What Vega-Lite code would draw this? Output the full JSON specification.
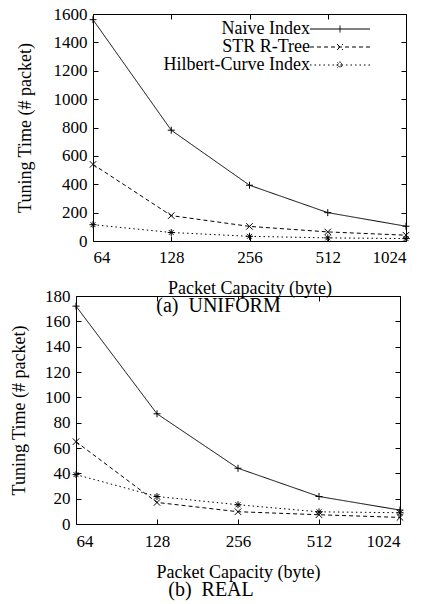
{
  "$schema": "https://vega.github.io/schema/vega-lite/v6.json",
  "background": "white",
  "padding": {"left": 9, "top": 4, "right": 0, "bottom": 0},
  "spacing": 282,
  "bounds": "flush",
  "config": {
    "font": "Liberation Serif",
    "view": {"stroke": "black", "strokeWidth": 1},
    "axis": {"grid": false, "domain": false, "ticks": true, "tickColor": "black", "tickSize": -5, "tickWidth": 1, "labelColor": "black", "labelFont": "Liberation Serif", "labelFontSize": 17, "titleFont": "Liberation Serif", "titleFontSize": 18, "titleFontWeight": "normal", "titleColor": "black", "format": "d"},
    "axisX": {"labelPadding": 13, "titlePadding": 14},
    "axisY": {"labelPadding": 11},
    "legend": {"padding": 0, "labelFont": "Liberation Serif", "labelFontSize": 18, "labelColor": "black", "labelAlign": "right", "rowPadding": 0, "symbolStrokeColor": "black", "symbolStrokeWidth": 1, "symbolFillColor": "transparent", "symbolSize": 100}
  },
  "datasets": {
    "uniform": [
      {"capacity": 64, "time": 1560, "series": "Naive Index"},
      {"capacity": 128, "time": 781, "series": "Naive Index"},
      {"capacity": 256, "time": 393, "series": "Naive Index"},
      {"capacity": 512, "time": 200, "series": "Naive Index"},
      {"capacity": 1024, "time": 104, "series": "Naive Index"},
      {"capacity": 64, "time": 540, "series": "STR R-Tree"},
      {"capacity": 128, "time": 179, "series": "STR R-Tree"},
      {"capacity": 256, "time": 103, "series": "STR R-Tree"},
      {"capacity": 512, "time": 64, "series": "STR R-Tree"},
      {"capacity": 1024, "time": 41, "series": "STR R-Tree"},
      {"capacity": 64, "time": 115, "series": "Hilbert-Curve Index"},
      {"capacity": 128, "time": 60, "series": "Hilbert-Curve Index"},
      {"capacity": 256, "time": 33, "series": "Hilbert-Curve Index"},
      {"capacity": 512, "time": 22, "series": "Hilbert-Curve Index"},
      {"capacity": 1024, "time": 17, "series": "Hilbert-Curve Index"}
    ],
    "real": [
      {"capacity": 64, "time": 172, "series": "Naive Index"},
      {"capacity": 128, "time": 87, "series": "Naive Index"},
      {"capacity": 256, "time": 44, "series": "Naive Index"},
      {"capacity": 512, "time": 21.7, "series": "Naive Index"},
      {"capacity": 1024, "time": 11, "series": "Naive Index"},
      {"capacity": 64, "time": 65, "series": "STR R-Tree"},
      {"capacity": 128, "time": 17, "series": "STR R-Tree"},
      {"capacity": 256, "time": 9.7, "series": "STR R-Tree"},
      {"capacity": 512, "time": 7.3, "series": "STR R-Tree"},
      {"capacity": 1024, "time": 5.2, "series": "STR R-Tree"},
      {"capacity": 64, "time": 39, "series": "Hilbert-Curve Index"},
      {"capacity": 128, "time": 21.7, "series": "Hilbert-Curve Index"},
      {"capacity": 256, "time": 15.2, "series": "Hilbert-Curve Index"},
      {"capacity": 512, "time": 9.6, "series": "Hilbert-Curve Index"},
      {"capacity": 1024, "time": 8.9, "series": "Hilbert-Curve Index"}
    ]
  },
  "vconcat": [
    {"hconcat": [
    {
      "width": 17,
      "height": 1,
      "view": {"stroke": null},
      "data": {"values": []},
      "mark": {"type": "point", "opacity": 0}
    },
    {
      "width": 313,
      "height": 227,
      "data": {"name": "uniform"},
      "title": {"text": "(a)\u00a0\u00a0UNIFORM", "orient": "bottom", "anchor": "middle", "fontSize": 20, "fontWeight": "normal", "font": "Liberation Serif", "color": "black", "dx": -31, "offset": -1},
      "resolve": {"axis": {"x": "independent", "y": "independent"}},
      "encoding": {
        "x": {"field": "capacity", "type": "quantitative", "scale": {"type": "log", "base": 2, "domain": [64, 1024]}, "axis": null},
        "y": {"field": "time", "type": "quantitative", "scale": {"domain": [0, 1600]}, "axis": null}
      },
      "layer": [
        {
          "mark": {"type": "line", "color": "black", "strokeWidth": 1},
          "encoding": {
            "x": {"field": "capacity", "type": "quantitative", "axis": {"values": [64, 128, 256, 512, 1024], "title": "Packet Capacity (byte)"}},
            "y": {"field": "time", "type": "quantitative", "axis": {"values": [0, 200, 400, 600, 800, 1000, 1200, 1400, 1600], "title": "Tuning Time (# packet)", "titlePadding": 19}},
            "strokeDash": {"field": "series", "type": "nominal", "scale": {"domain": ["Naive Index", "STR R-Tree", "Hilbert-Curve Index"], "range": [[1, 0], [4, 3], [1.5, 3]]},
              "legend": {"title": null, "orient": "none", "legendX": 255, "legendY": 6, "symbolType": "M-6,0H6", "labelOffset": -39,
                "encode": {"symbols": {"update": {"shape": {"signal": "datum.value === 'Naive Index' ? 'M-6,0H6M0,-0.7V0.7' : datum.value === 'STR R-Tree' ? 'M-6,0H6M-0.6,-0.6L0.6,0.6M-0.6,0.6L0.6,-0.6' : 'M-6,0H6M-0.7,0H0.7M0,-0.7V0.7M-0.5,-0.5L0.5,0.5M-0.5,0.5L0.5,-0.5'"}}}}}}
          }
        },
        {
          "mark": {"type": "point", "opacity": 0},
          "encoding": {
            "x": {"field": "capacity", "type": "quantitative", "axis": {"orient": "top", "values": [64, 128, 256, 512, 1024], "labels": false, "title": null}},
            "y": {"field": "time", "type": "quantitative", "axis": {"orient": "right", "values": [0, 200, 400, 600, 800, 1000, 1200, 1400, 1600], "labels": false, "title": null}}
          }
        },
        {
          "transform": [{"filter": "datum.series === 'Naive Index'"}],
          "mark": {"type": "point", "shape": "M-1,0H1M0,-1V1", "filled": false, "stroke": "black", "strokeWidth": 1, "size": 49, "opacity": 1}
        },
        {
          "transform": [{"filter": "datum.series === 'STR R-Tree'"}],
          "mark": {"type": "point", "shape": "M-1,-1L1,1M-1,1L1,-1", "filled": false, "stroke": "black", "strokeWidth": 1, "size": 42, "opacity": 1}
        },
        {
          "transform": [{"filter": "datum.series === 'Hilbert-Curve Index'"}],
          "mark": {"type": "point", "shape": "M-1,0H1M0,-1V1M-0.7,-0.7L0.7,0.7M-0.7,0.7L0.7,-0.7", "filled": false, "stroke": "black", "strokeWidth": 1, "size": 49, "opacity": 1}
        }
      ]
    }
    ], "spacing": 0, "bounds": "flush"},
    {
      "width": 324,
      "height": 228,
      "data": {"name": "real"},
      "title": {"text": "(b)\u00a0\u00a0REAL", "orient": "bottom", "anchor": "middle", "fontSize": 20, "fontWeight": "normal", "font": "Liberation Serif", "color": "black", "dx": -27, "offset": -1},
      "resolve": {"axis": {"x": "independent", "y": "independent"}},
      "encoding": {
        "x": {"field": "capacity", "type": "quantitative", "scale": {"type": "log", "base": 2, "domain": [64, 1024]}, "axis": null},
        "y": {"field": "time", "type": "quantitative", "scale": {"domain": [0, 180]}, "axis": null}
      },
      "layer": [
        {
          "mark": {"type": "line", "color": "black", "strokeWidth": 1},
          "encoding": {
            "x": {"field": "capacity", "type": "quantitative", "axis": {"values": [64, 128, 256, 512, 1024], "title": "Packet Capacity (byte)", "labelPadding": 14}},
            "y": {"field": "time", "type": "quantitative", "axis": {"values": [0, 20, 40, 60, 80, 100, 120, 140, 160, 180], "title": "Tuning Time (# packet)", "titlePadding": 16.5}},
            "strokeDash": {"field": "series", "type": "nominal", "scale": {"domain": ["Naive Index", "STR R-Tree", "Hilbert-Curve Index"], "range": [[1, 0], [4, 3], [1.5, 3]]},
              "legend": {"title": null, "orient": "none", "legendX": 271, "legendY": 8, "symbolType": "M-5,0H5", "labelOffset": -42,
                "encode": {"symbols": {"update": {"shape": {"signal": "datum.value === 'Naive Index' ? 'M-5,0H5M0,-0.7V0.7' : datum.value === 'STR R-Tree' ? 'M-5,0H5M-0.6,-0.6L0.6,0.6M-0.6,0.6L0.6,-0.6' : 'M-5,0H5M-0.7,0H0.7M0,-0.7V0.7M-0.5,-0.5L0.5,0.5M-0.5,0.5L0.5,-0.5'"}}}}}}
          }
        },
        {
          "mark": {"type": "point", "opacity": 0},
          "encoding": {
            "x": {"field": "capacity", "type": "quantitative", "axis": {"orient": "top", "values": [64, 128, 256, 512, 1024], "labels": false, "title": null}},
            "y": {"field": "time", "type": "quantitative", "axis": {"orient": "right", "values": [0, 20, 40, 60, 80, 100, 120, 140, 160, 180], "labels": false, "title": null}}
          }
        },
        {
          "transform": [{"filter": "datum.series === 'Naive Index'"}],
          "mark": {"type": "point", "shape": "M-1,0H1M0,-1V1", "filled": false, "stroke": "black", "strokeWidth": 1, "size": 49, "opacity": 1}
        },
        {
          "transform": [{"filter": "datum.series === 'STR R-Tree'"}],
          "mark": {"type": "point", "shape": "M-1,-1L1,1M-1,1L1,-1", "filled": false, "stroke": "black", "strokeWidth": 1, "size": 42, "opacity": 1}
        },
        {
          "transform": [{"filter": "datum.series === 'Hilbert-Curve Index'"}],
          "mark": {"type": "point", "shape": "M-1,0H1M0,-1V1M-0.7,-0.7L0.7,0.7M-0.7,0.7L0.7,-0.7", "filled": false, "stroke": "black", "strokeWidth": 1, "size": 49, "opacity": 1}
        }
      ]
    }
  ]
}
